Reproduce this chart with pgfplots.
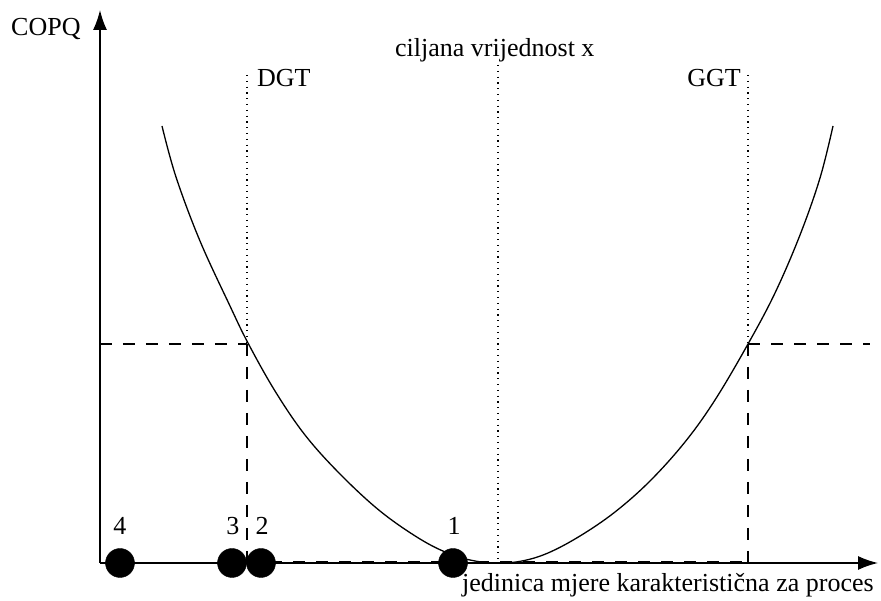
\documentclass[border=0pt]{standalone}
\usepackage{fontspec}
\setmainfont{Liberation Serif}
\usepackage{pgfplots}
\pgfplotsset{compat=1.18}
\usetikzlibrary{arrows.meta}
\newcommand\bigf{\fontsize{26}{28}\selectfont}
\begin{document}
\begin{tikzpicture}
\begin{axis}[
  scale only axis, width=778pt, height=553pt,
  xmin=100, xmax=878, ymin=0, ymax=553,
  axis lines=left, clip=false,
  xtick=\empty, ytick=\empty,
  axis line style={line width=1.6pt, -{Latex[length=20pt,width=14pt]}},
]
% loss curve
\addplot[line width=1.3pt, smooth, tension=0.6] coordinates {
(162,437)(176,386)(200,322)(230,257)(248,220)(275,172)(305,128)
(340,89)(380,52)(420,24)(450,9)(475,2)(498,0)
(522,2)(548,10)(580,27)(615,51)(650,82)(685,121)(715,163)(748,219)
(775,270)(800,328)(820,385)(833,437)};
% dotted verticals
\addplot[line width=1.2pt, dash pattern=on 1.3pt off 4.5pt] coordinates {(247,488)(247,219)};
\addplot[line width=1.2pt, dash pattern=on 1.3pt off 4.5pt] coordinates {(498,498)(498,0)};
\addplot[line width=1.2pt, dash pattern=on 1.3pt off 4.5pt] coordinates {(748,488)(748,219)};
% dashed lines
\addplot[line width=1.4pt, dash pattern=on 12pt off 11pt] coordinates {(247,219)(247,0)};
\addplot[line width=1.4pt, dash pattern=on 12pt off 11pt] coordinates {(748,219)(748,0)};
\addplot[line width=1.4pt, dash pattern=on 12pt off 11pt] coordinates {(100,219)(247,219)};
\addplot[line width=1.4pt, dash pattern=on 12pt off 11pt] coordinates {(748,219)(870,219)};
\addplot[line width=1.6pt, dash pattern=on 12pt off 11pt] coordinates {(247,1.5)(748,1.5)};
% points
\addplot[only marks, mark=*, mark size=14.5pt, black] coordinates {(120,0)(232,0)(261,0)(453,0)};
% texts
\node[font=\bigf, anchor=base west, inner sep=0pt] at (axis cs:11,527) {COPQ};
\node[font=\bigf, anchor=base west, inner sep=0pt] at (axis cs:395,506) {ciljana vrijednost x};
\node[font=\bigf, anchor=base west, inner sep=0pt] at (axis cs:257,476) {DGT};
\node[font=\bigf, anchor=base east, inner sep=0pt] at (axis cs:741,476) {GGT};
\node[font=\bigf, anchor=base west, inner sep=0pt] at (axis cs:462,-29) {jedinica mjere karakteristična za proces};
\node[font=\bigf, anchor=base, inner sep=0pt] at (axis cs:120,28) {4};
\node[font=\bigf, anchor=base, inner sep=0pt] at (axis cs:233,28) {3};
\node[font=\bigf, anchor=base, inner sep=0pt] at (axis cs:262,28) {2};
\node[font=\bigf, anchor=base, inner sep=0pt] at (axis cs:454,28) {1};
\path (axis cs:0,-38) rectangle (axis cs:881,563);
\end{axis}
\end{tikzpicture}
\end{document}
